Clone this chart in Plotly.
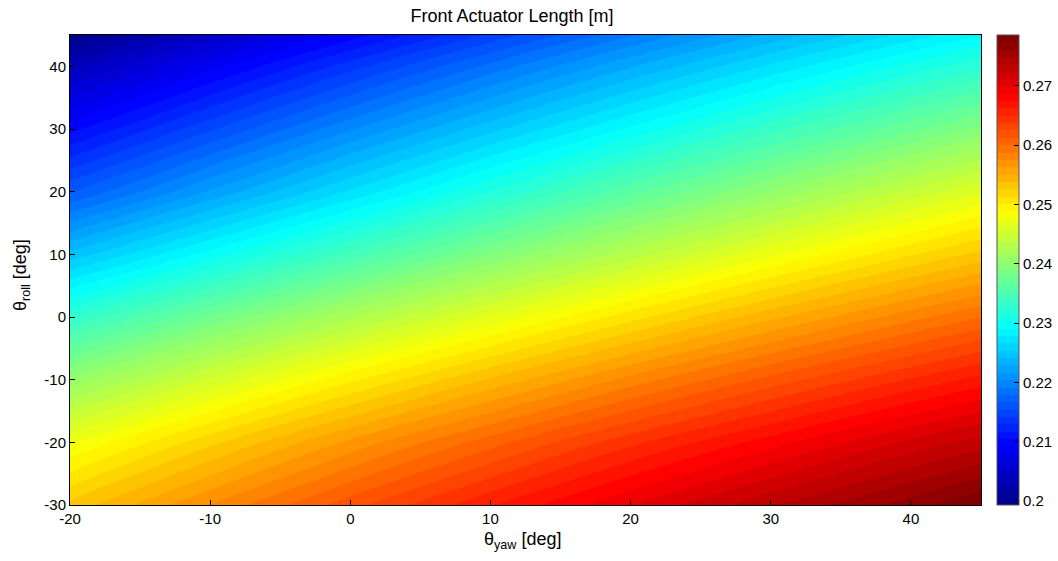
import plotly.graph_objects as go

# Grid of yaw / roll angles (deg)
yaw = [-20, -10, 0, 10, 20, 30, 40, 45]
roll = [-30, -20, -10, 0, 10, 20, 30, 40, 45]

# Front actuator length [m], one row per roll angle (rows follow `roll`, columns follow `yaw`)
length_roll_m30 = [0.2530, 0.2576, 0.2620, 0.2661, 0.2699, 0.2735, 0.2768, 0.2786]
length_roll_m20 = [0.2475, 0.2522, 0.2566, 0.2607, 0.2646, 0.2681, 0.2715, 0.2730]
length_roll_m10 = [0.2405, 0.2453, 0.2498, 0.2540, 0.2580, 0.2617, 0.2651, 0.2667]
length_roll_0 = [0.2328, 0.2378, 0.2424, 0.2467, 0.2508, 0.2547, 0.2583, 0.2600]
length_roll_10 = [0.2245, 0.2296, 0.2344, 0.2390, 0.2433, 0.2474, 0.2512, 0.2530]
length_roll_20 = [0.2165, 0.2218, 0.2268, 0.2316, 0.2361, 0.2403, 0.2443, 0.2462]
length_roll_30 = [0.2100, 0.2152, 0.2202, 0.2249, 0.2293, 0.2335, 0.2374, 0.2393]
length_roll_40 = [0.2035, 0.2087, 0.2136, 0.2183, 0.2227, 0.2268, 0.2307, 0.2325]
length_roll_45 = [0.1995, 0.2048, 0.2098, 0.2145, 0.2190, 0.2232, 0.2271, 0.2290]

z = [length_roll_m30, length_roll_m20, length_roll_m10, length_roll_0,
     length_roll_10, length_roll_20, length_roll_30, length_roll_40, length_roll_45]

# Axis ticks (hyphen-minus labels)
x_ticks = [-20, -10, 0, 10, 20, 30, 40]
x_text = ["-20", "-10", "0", "10", "20", "30", "40"]
y_ticks = [-30, -20, -10, 0, 10, 20, 30, 40]
y_text = ["-30", "-20", "-10", "0", "10", "20", "30", "40"]

# Colour limits and colourbar ticks
cmin, cmax = 0.1993, 0.2786
cbar_ticks = [0.20, 0.21, 0.22, 0.23, 0.24, 0.25, 0.26, 0.27]
cbar_text = ["0.2", "0.21", "0.22", "0.23", "0.24", "0.25", "0.26", "0.27"]
n_levels = 64

jet = [
    [0.0, "rgb(0,0,143)"],
    [0.125, "rgb(0,0,255)"],
    [0.375, "rgb(0,255,255)"],
    [0.625, "rgb(255,255,0)"],
    [0.875, "rgb(255,0,0)"],
    [1.0, "rgb(128,0,0)"],
]

font = "Liberation Sans, Arial, Helvetica, sans-serif"
step = (cmax - cmin) / n_levels

# plot area in pixels: x 70..981, y 35..505
plot_w = 981 - 70
plot_h = 505 - 35
cb_left = (997 - 70) / plot_w
cb_tick = 5 / plot_w

fig = go.Figure(
    go.Contour(
        x=yaw,
        y=roll,
        z=z,
        zmin=cmin,
        zmax=cmax,
        colorscale=jet,
        contours=dict(coloring="fill", start=cmin + step, end=cmax - step / 2,
                      size=step, showlines=False),
        line=dict(width=0),
        colorbar=dict(
            x=cb_left, xanchor="left", xref="paper",
            y=0.5, yanchor="middle", len=1.0, lenmode="fraction",
            thickness=22, outlinewidth=1, outlinecolor="#555555",
            tickvals=cbar_ticks, ticktext=cbar_text,
            ticks="inside", ticklen=5, tickcolor="black",
            tickfont=dict(family=font, size=15, color="black"),
            ypad=0, xpad=0,
        ),
    )
)

# tick marks on the left edge of the colourbar as well
for v in cbar_ticks:
    yp = (v - cmin) / (cmax - cmin)
    fig.add_shape(type="line", xref="paper", yref="paper",
                  x0=cb_left, x1=cb_left + cb_tick, y0=yp, y1=yp,
                  line=dict(color="black", width=1))

fig.update_layout(
    width=1058,
    height=561,
    margin=dict(l=70, r=77, t=35, b=56, autoexpand=False),
    paper_bgcolor="white",
    plot_bgcolor="white",
    font=dict(family=font, size=15, color="black"),
    title=dict(text="Front Actuator Length [m]", x=(512 - 70) / plot_w, xref="paper",
               xanchor="center", y=1 - 16 / 561, yanchor="middle", font=dict(size=18)),
    annotations=[
        dict(text="θ<sub>yaw</sub> [deg]", xref="paper", yref="paper",
             x=(522 - 70) / plot_w, y=-(540 - 505) / plot_h,
             xanchor="center", yanchor="middle", showarrow=False,
             font=dict(size=18)),
        dict(text="θ<sub>roll</sub> [deg]", xref="paper", yref="paper",
             x=-(70 - 21) / plot_w, y=(505 - 275) / plot_h,
             xanchor="center", yanchor="middle", showarrow=False,
             textangle=-90, font=dict(size=18)),
    ],
)

fig.update_xaxes(
    range=[-20, 45], tickvals=x_ticks, ticktext=x_text,
    ticks="inside", ticklen=5, tickcolor="black",
    showline=True, linecolor="black", linewidth=1, mirror=True,
    showgrid=False, zeroline=False,
)
fig.update_yaxes(
    range=[-30, 45], tickvals=y_ticks, ticktext=y_text,
    ticks="inside", ticklen=5, tickcolor="black",
    showline=True, linecolor="black", linewidth=1, mirror=True,
    showgrid=False, zeroline=False,
)

fig.write_html("out.html")
